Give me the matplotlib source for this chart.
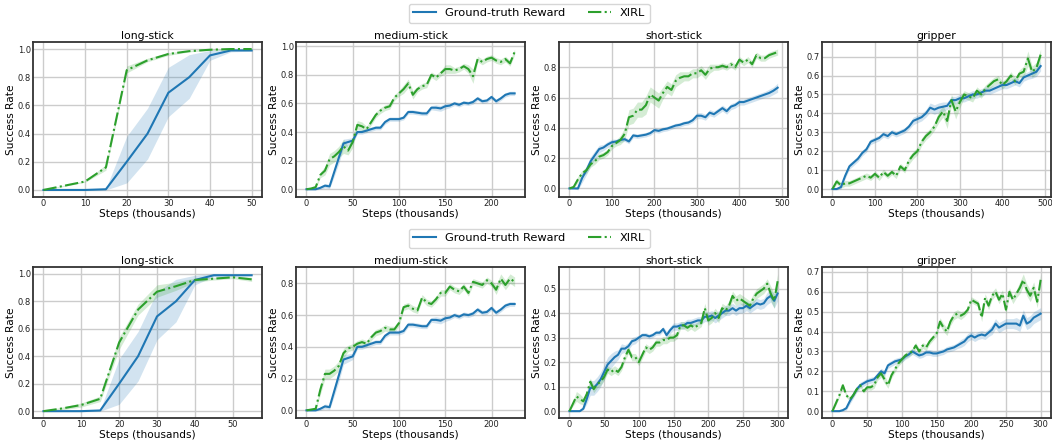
import matplotlib
matplotlib.use('Agg')
import matplotlib.pyplot as plt
import numpy as np

BLUE = '#1f77b4'
GREEN = '#2ca02c'

# ---- long-stick (steps of 5k) ----
LONG_STEPS_1 = [0, 5, 10, 15, 20, 25, 30, 35, 40, 45, 50]
LONG_STEPS_2 = [0, 5, 10, 15, 20, 25, 30, 35, 40, 45, 50, 55]
LONG_GT = [0, 0, 0, 0.005, 0.2, 0.4, 0.69, 0.8, 0.955, 0.99, 0.99, 0.99]
LONG_GT_LO = [0, 0, 0, 0.0, 0.05, 0.22, 0.52, 0.65, 0.92, 0.98, 0.985, 0.985]
LONG_GT_HI = [0, 0, 0, 0.01, 0.38, 0.58, 0.87, 0.96, 0.99, 1.0, 0.995, 0.995]
LONG_X1 = [0, 0.03, 0.06, 0.16, 0.85, 0.92, 0.965, 0.985, 0.995, 1.0, 1.0]
LONG_X1_LO = [0, 0.025, 0.055, 0.14, 0.83, 0.91, 0.955, 0.98, 0.99, 0.995, 0.995]
LONG_X1_HI = [0, 0.035, 0.065, 0.18, 0.88, 0.935, 0.975, 0.99, 1.0, 1.0, 1.0]
LONG_X2 = [0, 0.02, 0.045, 0.09, 0.5, 0.74, 0.87, 0.91, 0.955, 0.965, 0.975, 0.96]
LONG_X2_LO = [0, 0.01, 0.03, 0.07, 0.45, 0.7, 0.83, 0.88, 0.94, 0.955, 0.965, 0.945]
LONG_X2_HI = [0, 0.03, 0.06, 0.11, 0.54, 0.78, 0.92, 0.94, 0.97, 0.975, 0.985, 0.975]

# ---- medium-stick (0..225k, step 5k) ----
MED_STEPS = np.arange(0, 226, 5)
MED_GT = [0, 0, 0, 0.01, 0.025, 0.02, 0.12, 0.22, 0.32, 0.33,
          0.34, 0.40, 0.40, 0.41, 0.42, 0.43, 0.43, 0.47, 0.49, 0.49,
          0.49, 0.50, 0.54, 0.54, 0.535, 0.53, 0.53, 0.57, 0.57, 0.565,
          0.58, 0.585, 0.60, 0.59, 0.605, 0.60, 0.61, 0.635, 0.615, 0.62,
          0.645, 0.615, 0.635, 0.66, 0.67, 0.67]
MED_GT_SD = [0.005, 0.005, 0.005, 0.01, 0.015, 0.015, 0.03, 0.04, 0.03, 0.025,
             0.02, 0.015, 0.015, 0.015, 0.015, 0.015, 0.015, 0.015, 0.015, 0.015,
             0.015, 0.015, 0.015, 0.015, 0.015, 0.015, 0.015, 0.015, 0.02, 0.02,
             0.02, 0.015, 0.015, 0.015, 0.015, 0.015, 0.015, 0.015, 0.015, 0.015,
             0.015, 0.015, 0.015, 0.015, 0.015, 0.015]
MED_X1 = [0, 0.005, 0.015, 0.1, 0.13, 0.21, 0.23, 0.26, 0.30, 0.27,
          0.33, 0.45, 0.44, 0.42, 0.47, 0.52, 0.55, 0.57, 0.58, 0.64,
          0.67, 0.70, 0.74, 0.66, 0.70, 0.72, 0.73, 0.80, 0.78, 0.81,
          0.84, 0.84, 0.83, 0.84, 0.86, 0.84, 0.79, 0.91, 0.89, 0.91,
          0.92, 0.90, 0.89, 0.91, 0.88, 0.96]
MED_X1_SD = [0, 0.005, 0.01, 0.02, 0.03, 0.04, 0.04, 0.04, 0.05, 0.03,
             0.04, 0.03, 0.03, 0.02, 0.02, 0.02, 0.02, 0.02, 0.02, 0.02,
             0.02, 0.03, 0.03, 0.03, 0.02, 0.02, 0.02, 0.02, 0.02, 0.02,
             0.03, 0.03, 0.02, 0.02, 0.02, 0.03, 0.05, 0.02, 0.02, 0.02,
             0.02, 0.02, 0.02, 0.02, 0.02, 0.02]
MED_X2 = [0, 0.005, 0.01, 0.13, 0.23, 0.23, 0.25, 0.28, 0.36, 0.39,
          0.40, 0.42, 0.43, 0.42, 0.46, 0.49, 0.50, 0.52, 0.51, 0.51,
          0.55, 0.65, 0.66, 0.64, 0.63, 0.71, 0.68, 0.67, 0.70, 0.74,
          0.74, 0.78, 0.76, 0.75, 0.78, 0.74, 0.81, 0.80, 0.79, 0.82,
          0.80, 0.76, 0.83, 0.79, 0.83, 0.81]
MED_X2_SD = [0, 0.005, 0.01, 0.03, 0.03, 0.03, 0.03, 0.03, 0.03, 0.02,
             0.02, 0.02, 0.02, 0.02, 0.02, 0.02, 0.02, 0.02, 0.02, 0.02,
             0.02, 0.02, 0.02, 0.02, 0.02, 0.02, 0.02, 0.02, 0.02, 0.02,
             0.02, 0.02, 0.02, 0.02, 0.02, 0.02, 0.02, 0.02, 0.02, 0.02,
             0.02, 0.03, 0.03, 0.03, 0.03, 0.03]

# ---- top row, short-stick and gripper (0..490k, step 10k) ----
LONGRUN_STEPS = np.arange(0, 491, 10)
SHORT1_GT = [0, 0, 0, 0.07, 0.12, 0.18, 0.22, 0.26, 0.27, 0.29,
             0.305, 0.31, 0.32, 0.325, 0.31, 0.35, 0.345, 0.35, 0.355, 0.365,
             0.385, 0.38, 0.39, 0.395, 0.405, 0.415, 0.42, 0.43, 0.435, 0.45,
             0.48, 0.48, 0.47, 0.50, 0.49, 0.51, 0.53, 0.51, 0.54, 0.55,
             0.57, 0.57, 0.58, 0.59, 0.60, 0.61, 0.62, 0.63, 0.645, 0.665]
SHORT1_GT_SD = [0, 0, 0.01, 0.03, 0.03, 0.03, 0.03, 0.025, 0.02, 0.02,
                0.02, 0.015, 0.015, 0.015, 0.015, 0.015, 0.015, 0.015, 0.015, 0.015,
                0.015, 0.015, 0.015, 0.015, 0.015, 0.015, 0.015, 0.015, 0.015, 0.015,
                0.02, 0.02, 0.02, 0.02, 0.02, 0.02, 0.02, 0.02, 0.02, 0.02,
                0.02, 0.02, 0.02, 0.02, 0.02, 0.02, 0.02, 0.025, 0.025, 0.03]
SHORT1_X = [0, 0.01, 0.06, 0.10, 0.12, 0.16, 0.18, 0.21, 0.22, 0.24,
            0.28, 0.30, 0.32, 0.36, 0.47, 0.48, 0.52, 0.52, 0.55, 0.62,
            0.60, 0.58, 0.63, 0.67, 0.65, 0.71, 0.73, 0.74, 0.74, 0.76,
            0.76, 0.78, 0.75, 0.79, 0.80, 0.80, 0.81, 0.80, 0.82, 0.80,
            0.85, 0.83, 0.85, 0.82, 0.88, 0.86, 0.86, 0.88, 0.89, 0.90]
SHORT1_X_SD = [0, 0.01, 0.02, 0.02, 0.02, 0.02, 0.02, 0.02, 0.02, 0.02,
               0.02, 0.02, 0.03, 0.04, 0.05, 0.05, 0.05, 0.05, 0.06, 0.05,
               0.05, 0.05, 0.04, 0.04, 0.04, 0.04, 0.04, 0.03, 0.03, 0.03,
               0.03, 0.03, 0.03, 0.03, 0.02, 0.02, 0.02, 0.02, 0.02, 0.02,
               0.02, 0.02, 0.02, 0.02, 0.02, 0.02, 0.02, 0.02, 0.02, 0.02]
GRIP1_GT = [0, 0, 0.01, 0.07, 0.12, 0.14, 0.16, 0.19, 0.21, 0.25,
            0.26, 0.27, 0.29, 0.28, 0.30, 0.29, 0.30, 0.31, 0.33, 0.36,
            0.37, 0.38, 0.40, 0.43, 0.42, 0.43, 0.435, 0.44, 0.47, 0.47,
            0.48, 0.48, 0.49, 0.50, 0.50, 0.51, 0.52, 0.52, 0.53, 0.54,
            0.55, 0.55, 0.56, 0.57, 0.56, 0.59, 0.60, 0.61, 0.62, 0.65]
GRIP1_GT_SD = [0.005, 0.005, 0.01, 0.015, 0.015, 0.015, 0.015, 0.015, 0.015, 0.015,
               0.015, 0.015, 0.015, 0.015, 0.015, 0.015, 0.015, 0.015, 0.015, 0.02,
               0.02, 0.02, 0.02, 0.025, 0.025, 0.025, 0.025, 0.02, 0.02, 0.02,
               0.02, 0.02, 0.02, 0.02, 0.02, 0.02, 0.02, 0.02, 0.02, 0.02,
               0.02, 0.02, 0.02, 0.02, 0.02, 0.02, 0.02, 0.025, 0.025, 0.025]
GRIP1_X = [0, 0.04, 0.02, 0.03, 0.03, 0.04, 0.05, 0.06, 0.07, 0.06,
           0.08, 0.06, 0.09, 0.07, 0.09, 0.07, 0.12, 0.10, 0.15, 0.18,
           0.20, 0.25, 0.28, 0.30, 0.33, 0.38, 0.41, 0.36, 0.47, 0.41,
           0.46, 0.50, 0.49, 0.48, 0.52, 0.50, 0.53, 0.55, 0.57, 0.58,
           0.55, 0.57, 0.60, 0.57, 0.61, 0.62, 0.69, 0.62, 0.64, 0.71]
GRIP1_X_SD = [0.005, 0.015, 0.015, 0.015, 0.015, 0.015, 0.015, 0.015, 0.015, 0.015,
              0.015, 0.015, 0.015, 0.015, 0.015, 0.015, 0.015, 0.015, 0.02, 0.02,
              0.02, 0.02, 0.02, 0.02, 0.02, 0.03, 0.03, 0.04, 0.03, 0.04,
              0.03, 0.02, 0.02, 0.02, 0.02, 0.02, 0.02, 0.02, 0.02, 0.02,
              0.02, 0.02, 0.02, 0.02, 0.02, 0.03, 0.04, 0.03, 0.03, 0.03]

# ---- bottom row, short-stick and gripper (0..300k, step 5k) ----
SHORTRUN_STEPS = np.arange(0, 301, 5)
SHORT2_GT = [0, 0, 0, 0, 0.01, 0.05, 0.095, 0.095, 0.11, 0.13,
             0.16, 0.19, 0.205, 0.22, 0.23, 0.255, 0.255, 0.265, 0.285, 0.29,
             0.30, 0.31, 0.31, 0.305, 0.31, 0.32, 0.32, 0.335, 0.31, 0.33,
             0.345, 0.345, 0.35, 0.35, 0.36, 0.36, 0.365, 0.37, 0.37, 0.385,
             0.385, 0.39, 0.38, 0.39, 0.40, 0.41, 0.41, 0.42, 0.41, 0.42,
             0.42, 0.43, 0.42, 0.43, 0.44, 0.435, 0.44, 0.46, 0.47, 0.45,
             0.48]
SHORT2_GT_SD = [0, 0, 0, 0, 0.005, 0.02, 0.03, 0.03, 0.03, 0.03,
                0.03, 0.03, 0.03, 0.025, 0.02, 0.02, 0.015, 0.015, 0.015, 0.015,
                0.01, 0.01, 0.01, 0.01, 0.01, 0.01, 0.01, 0.01, 0.015, 0.015,
                0.015, 0.015, 0.015, 0.015, 0.015, 0.015, 0.015, 0.015, 0.015, 0.02,
                0.02, 0.02, 0.02, 0.02, 0.02, 0.02, 0.02, 0.02, 0.02, 0.02,
                0.02, 0.02, 0.02, 0.02, 0.02, 0.02, 0.02, 0.025, 0.025, 0.03,
                0.03]
SHORT2_X = [0, 0.03, 0.06, 0.05, 0.04, 0.07, 0.12, 0.09, 0.11, 0.12,
            0.14, 0.17, 0.16, 0.17, 0.16, 0.18, 0.22, 0.25, 0.22, 0.22,
            0.20, 0.23, 0.26, 0.25, 0.26, 0.28, 0.28, 0.29, 0.29, 0.30,
            0.30, 0.31, 0.35, 0.35, 0.34, 0.35, 0.34, 0.35, 0.36, 0.42,
            0.37, 0.38, 0.40, 0.38, 0.42, 0.41, 0.43, 0.47, 0.45, 0.46,
            0.45, 0.44, 0.43, 0.46, 0.48, 0.49, 0.50, 0.52, 0.48, 0.45,
            0.53]
SHORT2_X_SD = [0, 0.01, 0.02, 0.02, 0.015, 0.015, 0.015, 0.015, 0.015, 0.015,
               0.015, 0.015, 0.015, 0.015, 0.015, 0.015, 0.015, 0.015, 0.015, 0.015,
               0.015, 0.015, 0.015, 0.015, 0.015, 0.015, 0.015, 0.015, 0.015, 0.015,
               0.015, 0.015, 0.015, 0.015, 0.015, 0.015, 0.015, 0.015, 0.015, 0.02,
               0.02, 0.02, 0.02, 0.02, 0.02, 0.02, 0.02, 0.02, 0.02, 0.02,
               0.02, 0.02, 0.02, 0.02, 0.02, 0.02, 0.02, 0.02, 0.03, 0.03,
               0.03]
GRIP2_GT = [0, 0, 0, 0.005, 0.015, 0.05, 0.08, 0.11, 0.13, 0.14,
            0.15, 0.155, 0.16, 0.18, 0.20, 0.19, 0.23, 0.24, 0.25, 0.255,
            0.26, 0.275, 0.285, 0.30, 0.29, 0.28, 0.285, 0.295, 0.295, 0.29,
            0.29, 0.295, 0.30, 0.31, 0.315, 0.32, 0.33, 0.34, 0.35, 0.37,
            0.38, 0.37, 0.38, 0.385, 0.38, 0.395, 0.41, 0.44, 0.42, 0.43,
            0.44, 0.44, 0.44, 0.44, 0.43, 0.48, 0.44, 0.45, 0.47, 0.48,
            0.49]
GRIP2_GT_SD = [0, 0, 0, 0.005, 0.01, 0.015, 0.015, 0.015, 0.015, 0.015,
               0.015, 0.015, 0.015, 0.015, 0.015, 0.015, 0.015, 0.015, 0.015, 0.015,
               0.015, 0.015, 0.015, 0.015, 0.015, 0.015, 0.015, 0.015, 0.015, 0.015,
               0.015, 0.015, 0.015, 0.015, 0.015, 0.015, 0.015, 0.02, 0.02, 0.02,
               0.02, 0.02, 0.02, 0.02, 0.02, 0.02, 0.025, 0.025, 0.025, 0.025,
               0.025, 0.025, 0.025, 0.03, 0.03, 0.03, 0.03, 0.03, 0.03, 0.03,
               0.03]
GRIP2_X = [0, 0.04, 0.08, 0.13, 0.08, 0.06, 0.08, 0.11, 0.13, 0.10,
           0.12, 0.12, 0.13, 0.17, 0.19, 0.16, 0.13, 0.18, 0.21, 0.24,
           0.26, 0.28, 0.29, 0.30, 0.33, 0.30, 0.33, 0.32, 0.35, 0.37,
           0.39, 0.45, 0.42, 0.40, 0.45, 0.48, 0.49, 0.48, 0.49, 0.51,
           0.56, 0.55, 0.54, 0.47, 0.57, 0.53, 0.58, 0.60, 0.56, 0.59,
           0.51, 0.60, 0.56, 0.59, 0.62, 0.66, 0.61, 0.58, 0.62, 0.55,
           0.66]
GRIP2_X_SD = [0, 0.01, 0.01, 0.01, 0.01, 0.01, 0.01, 0.01, 0.01, 0.01,
              0.01, 0.015, 0.015, 0.015, 0.02, 0.02, 0.015, 0.015, 0.015, 0.015,
              0.015, 0.015, 0.015, 0.015, 0.015, 0.015, 0.015, 0.015, 0.015, 0.015,
              0.015, 0.02, 0.02, 0.02, 0.02, 0.02, 0.02, 0.02, 0.015, 0.015,
              0.015, 0.015, 0.015, 0.02, 0.02, 0.02, 0.02, 0.02, 0.02, 0.02,
              0.02, 0.02, 0.02, 0.02, 0.03, 0.03, 0.03, 0.03, 0.03, 0.03,
              0.03]


def band(mean, sd):
    mean = np.asarray(mean)
    sd = np.asarray(sd)
    return mean - sd, mean + sd


def draw(ax, title, steps, gt, gt_band, xirl, xirl_band):
    ax.fill_between(steps, gt_band[0], gt_band[1], color=BLUE, alpha=0.2, lw=0)
    ax.fill_between(steps, xirl_band[0], xirl_band[1], color=GREEN, alpha=0.2, lw=0)
    ax.plot(steps, gt, color=BLUE, lw=1.5, label='Ground-truth Reward')
    ax.plot(steps, xirl, color=GREEN, lw=1.5, ls='-.', label='XIRL')
    ax.set_title(title, fontsize=7.8, pad=2)
    ax.set_xlabel('Steps (thousands)', fontsize=7.6, labelpad=0.5)
    ax.set_ylabel('Success Rate', fontsize=7.6, labelpad=1.5)
    ax.grid(True, color='#cccccc', lw=1)
    ax.set_axisbelow(True)
    ax.tick_params(labelsize=6, length=0, pad=1.5, labelcolor='#222222')
    for s in ax.spines.values():
        s.set_color('#333333')
        s.set_linewidth(1.3)


fig = plt.figure(figsize=(10.52, 4.43), dpi=100)

lefts = [0.0314, 0.2814, 0.5314, 0.7814]
w = 0.2177
top_row = [fig.add_axes([l, 0.5553, w, 0.3499]) for l in lefts]
bot_row = [fig.add_axes([l, 0.0564, w, 0.3409]) for l in lefts]

draw(top_row[0], 'long-stick', LONG_STEPS_1, LONG_GT[:11],
     (LONG_GT_LO[:11], LONG_GT_HI[:11]), LONG_X1, (LONG_X1_LO, LONG_X1_HI))
draw(top_row[1], 'medium-stick', MED_STEPS, MED_GT, band(MED_GT, MED_GT_SD),
     MED_X1, band(MED_X1, MED_X1_SD))
draw(top_row[2], 'short-stick', LONGRUN_STEPS, SHORT1_GT, band(SHORT1_GT, SHORT1_GT_SD),
     SHORT1_X, band(SHORT1_X, SHORT1_X_SD))
draw(top_row[3], 'gripper', LONGRUN_STEPS, GRIP1_GT, band(GRIP1_GT, GRIP1_GT_SD),
     GRIP1_X, band(GRIP1_X, GRIP1_X_SD))

draw(bot_row[0], 'long-stick', LONG_STEPS_2, LONG_GT, (LONG_GT_LO, LONG_GT_HI),
     LONG_X2, (LONG_X2_LO, LONG_X2_HI))
draw(bot_row[1], 'medium-stick', MED_STEPS, MED_GT, band(MED_GT, MED_GT_SD),
     MED_X2, band(MED_X2, MED_X2_SD))
draw(bot_row[2], 'short-stick', SHORTRUN_STEPS, SHORT2_GT, band(SHORT2_GT, SHORT2_GT_SD),
     SHORT2_X, band(SHORT2_X, SHORT2_X_SD))
draw(bot_row[3], 'gripper', SHORTRUN_STEPS, GRIP2_GT, band(GRIP2_GT, GRIP2_GT_SD),
     GRIP2_X, band(GRIP2_X, GRIP2_X_SD))

for row, y in ((top_row, 0.970), (bot_row, 0.462)):
    handles, labels = row[0].get_legend_handles_labels()
    fig.legend(handles, labels, loc='center', bbox_to_anchor=(0.503, y), ncol=2,
               fontsize=8.2, frameon=True, edgecolor='#cccccc', fancybox=True,
               borderpad=0.4)

fig.savefig('out.png', dpi=100)
